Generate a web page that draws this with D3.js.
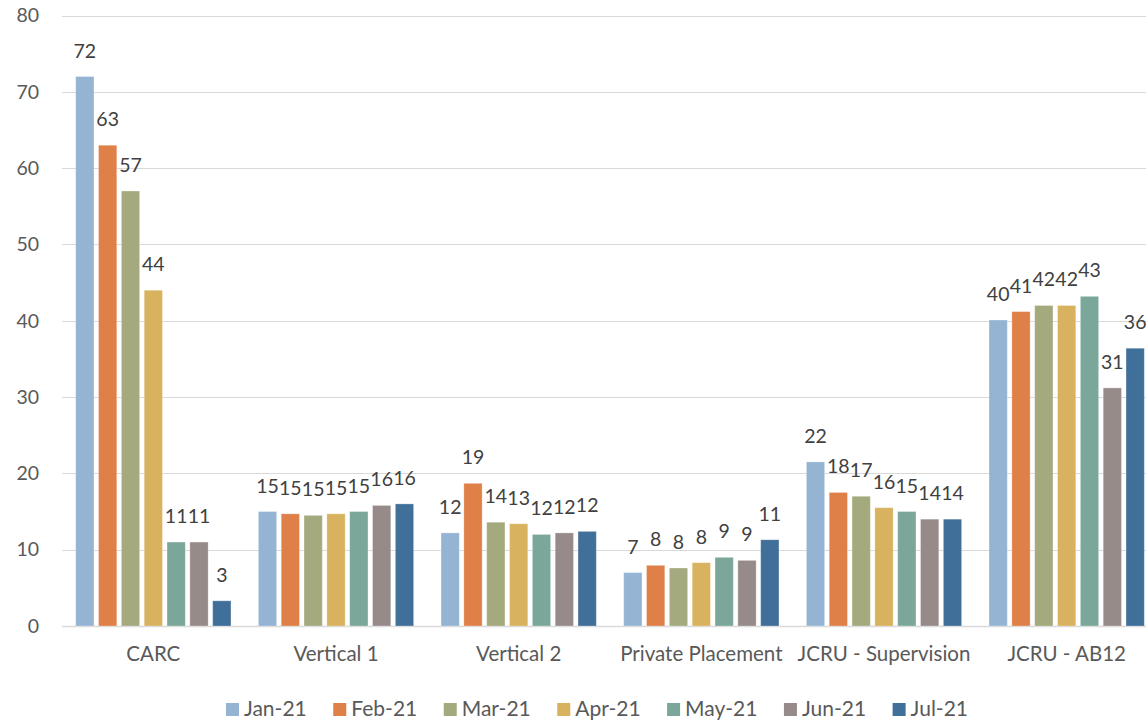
<!DOCTYPE html>
<html>
<head>
<meta charset="utf-8">
<script src="https://cdn.jsdelivr.net/npm/d3@7/dist/d3.min.js"></script>
<style>
  html, body { margin: 0; padding: 0; background: #fff; overflow: hidden; }
  svg { display: block; }
  text { font-family: Lato, "Open Sans", sans-serif; }
</style>
</head>
<body>
<svg id="chart" width="1146" height="722"></svg>
<script>
const categories = ["CARC", "Vertical 1", "Vertical 2", "Private Placement", "JCRU - Supervision", "JCRU - AB12"];
const seriesNames = ["Jan-21", "Feb-21", "Mar-21", "Apr-21", "May-21", "Jun-21", "Jul-21"];
const seriesColors = ["#95B4D4", "#DF8049", "#A4AA7E", "#D8B25E", "#7BA69A", "#978B89", "#406F99"];
const jan21 = [72, 15, 12.2, 7, 21.5, 40.1];
const feb21 = [63, 14.7, 18.7, 7.95, 17.5, 41.2];
const mar21 = [57, 14.5, 13.6, 7.6, 17, 42];
const apr21 = [44, 14.7, 13.4, 8.3, 15.5, 42];
const may21 = [11, 15, 12, 9, 15, 43.2];
const jun21 = [11, 15.8, 12.2, 8.6, 14, 31.2];
const jul21 = [3.3, 16, 12.4, 11.3, 14, 36.4];
const seriesValues = [jan21, feb21, mar21, apr21, may21, jun21, jul21];
const yTicks = [0, 10, 20, 30, 40, 50, 60, 70, 80];

const svg = d3.select("#chart");
const plotLeft = 62, plotRight = 1158, plotTop = 15.5, plotBottom = 626;

const x0 = d3.scaleBand().domain(categories).range([plotLeft, plotRight])
  .paddingInner(0.15).paddingOuter(0.075);
const x1 = d3.scaleBand().domain(seriesNames).range([0, x0.bandwidth()])
  .paddingInner(0.2).paddingOuter(0);
const y = d3.scaleLinear().domain([0, 80]).range([plotBottom, plotTop]);

// gridlines
svg.append("g").selectAll("line").data(yTicks).join("line")
  .attr("x1", plotLeft).attr("x2", 1146)
  .attr("y1", d => Math.round(y(d)) + 0.5).attr("y2", d => Math.round(y(d)) + 0.5)
  .attr("stroke", "#D9D9D9").attr("stroke-width", d => d === 0 ? 1.5 : 1.2);

// y axis labels
const yAxis = d3.axisLeft(y).tickValues(yTicks).tickSize(0).tickPadding(0);
const ya = svg.append("g").attr("transform", `translate(39,0)`).call(yAxis);
ya.select(".domain").remove();
ya.selectAll("text").attr("font-size", 19.5).attr("fill", "#595959")
  .style("font-family", "Lato, sans-serif");

// x axis labels
const xAxis = d3.axisBottom(x0).tickSize(0).tickPadding(0);
const xa = svg.append("g").attr("transform", `translate(0,${plotBottom + 20})`).call(xAxis);
xa.select(".domain").remove();
xa.selectAll("text").attr("font-size", 20.5).attr("fill", "#595959")
  .style("font-family", "Lato, sans-serif");

// bars
const rows = [];
categories.forEach((c, ci) => {
  seriesNames.forEach((s, si) => {
    rows.push({ cat: c, ser: s, si: si, v: seriesValues[si][ci] });
  });
});

const bars = svg.append("g");
bars.selectAll("rect").data(rows).join("rect")
  .attr("x", d => x0(d.cat) + x1(d.ser))
  .attr("width", x1.bandwidth())
  .attr("y", d => y(d.v))
  .attr("height", d => y(0) - y(d.v))
  .attr("fill", d => seriesColors[d.si])
  .attr("stroke", "#ffffff").attr("stroke-opacity", 0.35).attr("stroke-width", 0.8);

// data labels
svg.append("g").selectAll("text").data(rows).join("text")
  .attr("x", d => x0(d.cat) + x1(d.ser) + x1.bandwidth() / 2)
  .attr("y", d => y(d.v) - 19)
  .attr("text-anchor", "middle")
  .attr("font-size", 19.5)
  .attr("fill", "#404040")
  .text(d => Math.round(d.v));

// legend
const legend = svg.append("g");
const legendY = 709;
const legendFont = 21;
const tmp = svg.append("text").attr("font-size", legendFont).style("font-family", "Lato, sans-serif");
const widths = seriesNames.map(n => { tmp.text(n); return tmp.node().getComputedTextLength(); });
tmp.remove();
const sq = 13, sqGap = 5, itemGap = 26.5;
const total = d3.sum(widths) + seriesNames.length * (sq + sqGap) + (seriesNames.length - 1) * itemGap;
let lx = 597 - total / 2;
seriesNames.forEach((n, i) => {
  legend.append("rect").attr("x", lx).attr("y", legendY - sq / 2 + 0.5).attr("width", sq).attr("height", sq)
    .attr("fill", seriesColors[i]);
  legend.append("text").attr("x", lx + sq + sqGap).attr("y", legendY).attr("dy", "0.34em")
    .attr("font-size", legendFont).attr("fill", "#595959").text(n);
  lx += sq + sqGap + widths[i] + itemGap;
});
</script>
</body>
</html>
